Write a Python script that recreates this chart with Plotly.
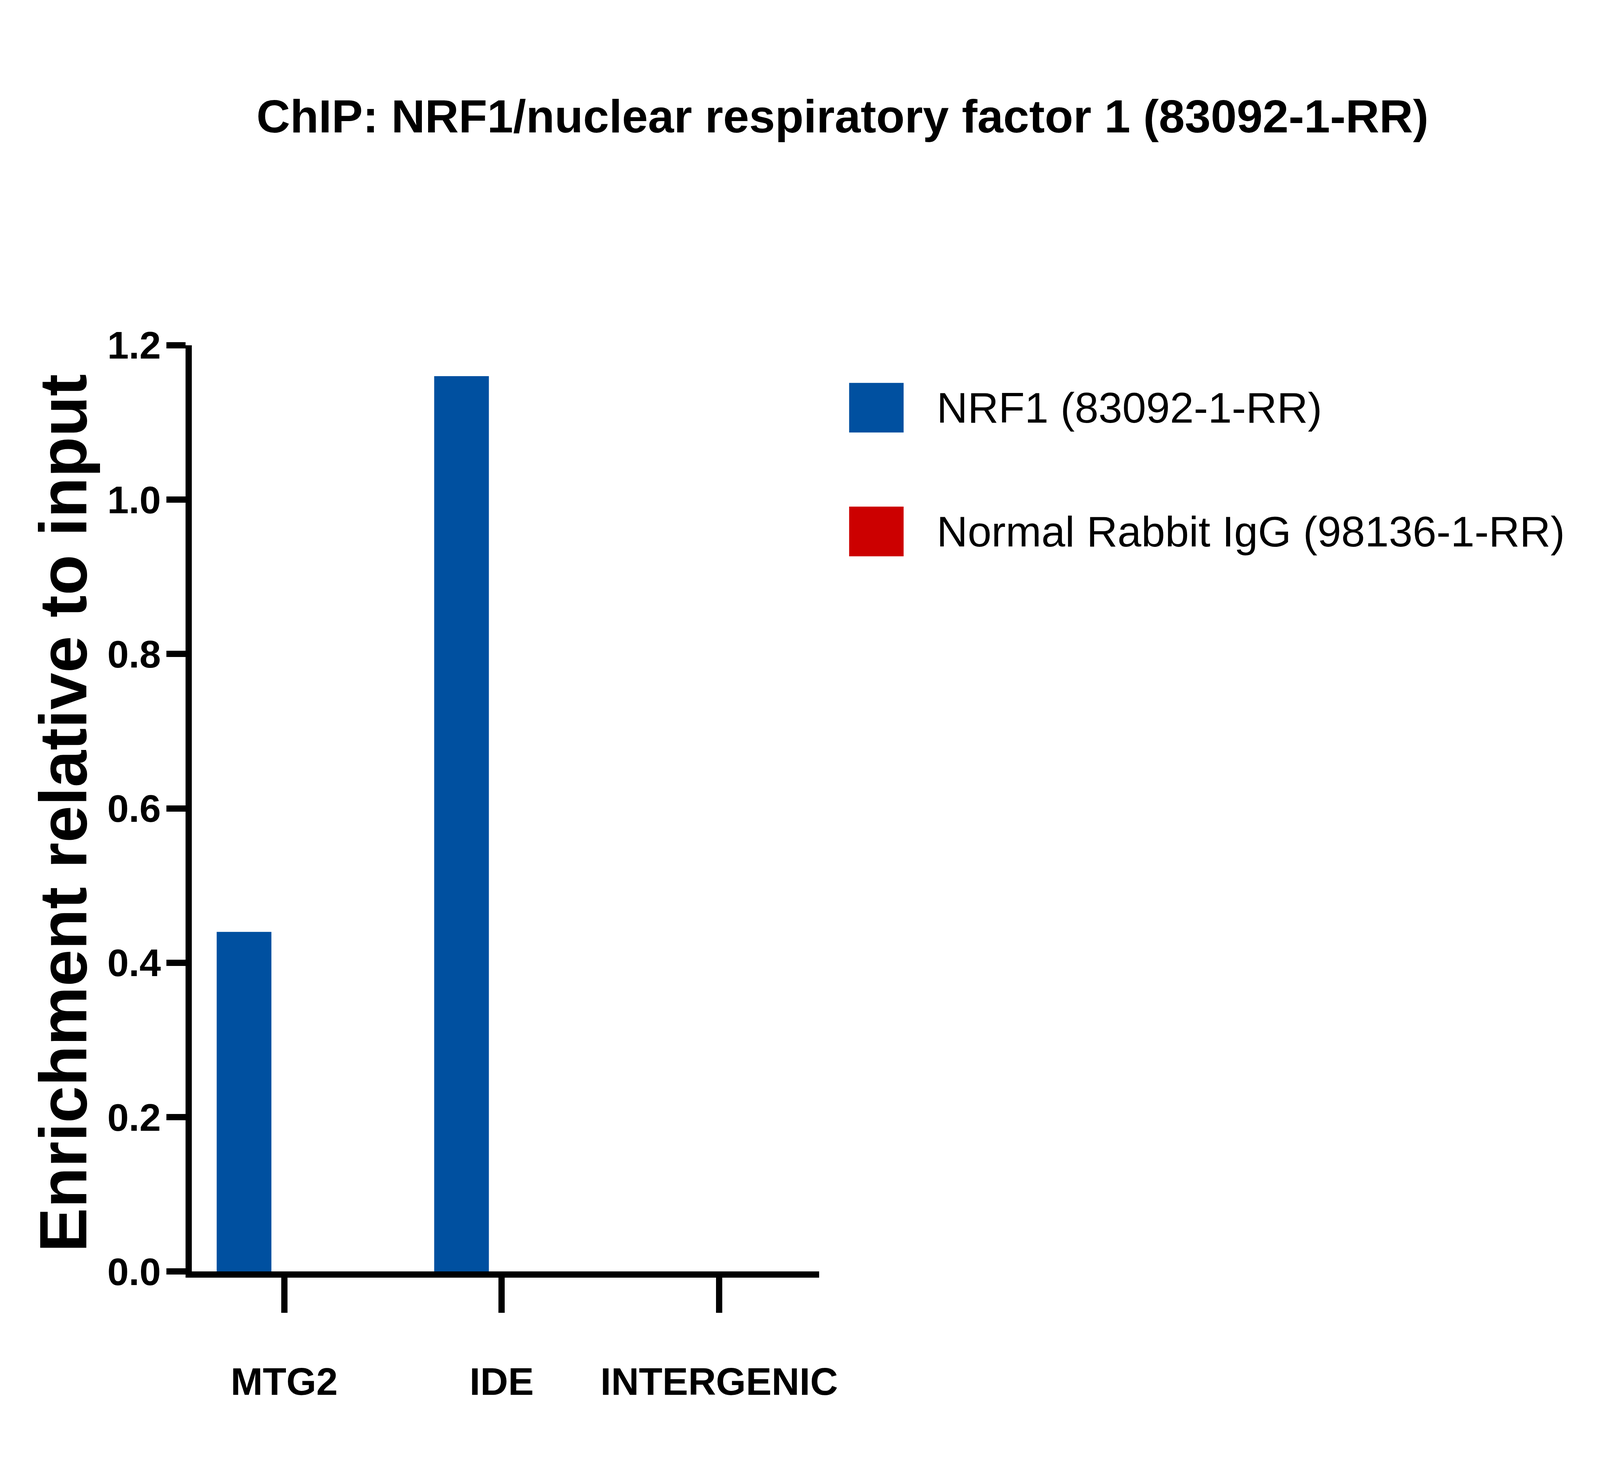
import plotly.graph_objects as go

# ---------------- Data ---------------- #

categories = ["MTG2", "IDE", "INTERGENIC"]
nrf1_values = [0.44, 1.16, 0.0]
igg_values = [0.0, 0.0, 0.0]
series_names = ["NRF1 (83092-1-RR)", "Normal Rabbit IgG (98136-1-RR)"]
series_colors = ["#0050A0", "#CC0000"]
y_ticks = [0.0, 0.2, 0.4, 0.6, 0.8, 1.0, 1.2]

title_text = "ChIP: NRF1/nuclear respiratory factor 1 (83092-1-RR)"
y_title = "Enrichment relative to input"

# ---------------- Layout helpers ---------------- #

# positions were measured on the 7460x3766 reference picture and are used as
# fractions of the figure, so the chart follows the width of the browser window
W, H = 7460, 3766
FIG_H = 3740
SX = 4060 / W          # rough css width / reference width
SY = FIG_H / H
FS = 0.548             # text scale
LINE_W = 16
PLOT_L, PLOT_R, PLOT_T, PLOT_B = 884, 3820, 882, 3270
FONT = "Arial, Liberation Sans, sans-serif"


def px_x(px):
    return px / W


def px_y(py):
    return 1 - py / H


fig = go.Figure()

bar_width = 0.2515
offsets = [-0.3104, -0.3104 + bar_width]
for name, vals, color, off in zip(series_names, [nrf1_values, igg_values], series_colors, offsets):
    fig.add_trace(go.Bar(
        x=categories, y=vals, name=name,
        marker=dict(color=color, line=dict(width=0)),
        width=bar_width, offset=off, showlegend=False,
    ))

tick_font = dict(family=FONT, size=180 * FS, color="black", weight="bold")

fig.update_layout(
    height=FIG_H,
    paper_bgcolor="white", plot_bgcolor="white",
    margin=dict(l=0, r=0, t=0, b=0, pad=0, autoexpand=False),
    barmode="overlay",
    title=dict(
        text=title_text, x=3929 / W, xanchor="center", xref="container",
        y=1 - 291 / H, yanchor="middle", yref="container",
        font=dict(family=FONT, size=218 * FS, color="black", weight="bold"),
    ),
    xaxis=dict(
        type="category", range=[-0.424, 2.46], automargin=False,
        domain=[px_x(PLOT_L), px_x(PLOT_R)],
        showline=True, linecolor="black", linewidth=LINE_W,
        ticks="outside", ticklen=90 * SY, tickwidth=LINE_W, tickcolor="black",
        showgrid=False, zeroline=False, tickfont=tick_font,
        ticklabelstandoff=92,
    ),
    yaxis=dict(
        range=[0, 1.2], tickvals=y_ticks, tickformat=".1f", automargin=False,
        domain=[px_y(PLOT_B), px_y(PLOT_T)],
        showline=True, linecolor="black", linewidth=LINE_W,
        ticks="outside", ticklen=90 * SX, tickwidth=LINE_W, tickcolor="black",
        showgrid=False, zeroline=False, tickfont=tick_font,
        ticklabelstandoff=round(-10 * SX),
    ),
)

# y axis title
fig.add_annotation(
    text=y_title, textangle=-90, xref="paper", yref="paper",
    x=px_x(280), y=px_y(2088), xanchor="center", yanchor="middle", showarrow=False,
    font=dict(family=FONT, size=170, color="black", weight="bold"),
)

# legend drawn by hand so the swatches are big enough
row_centers = [1043, 1362]
for name, color, cy in zip(series_names, series_colors, row_centers):
    fig.add_shape(
        type="rect", xref="paper", yref="paper",
        x0=px_x(3960), x1=px_x(4215), y0=px_y(cy - 64), y1=px_y(cy + 64),
        fillcolor=color, line=dict(width=0),
    )
    fig.add_annotation(
        text=name, xref="paper", yref="paper",
        x=px_x(4367), y=px_y(cy), xanchor="left", yanchor="middle", showarrow=False,
        font=dict(family=FONT, size=200 * FS, color="black"),
    )

fig.write_html("out.html")
